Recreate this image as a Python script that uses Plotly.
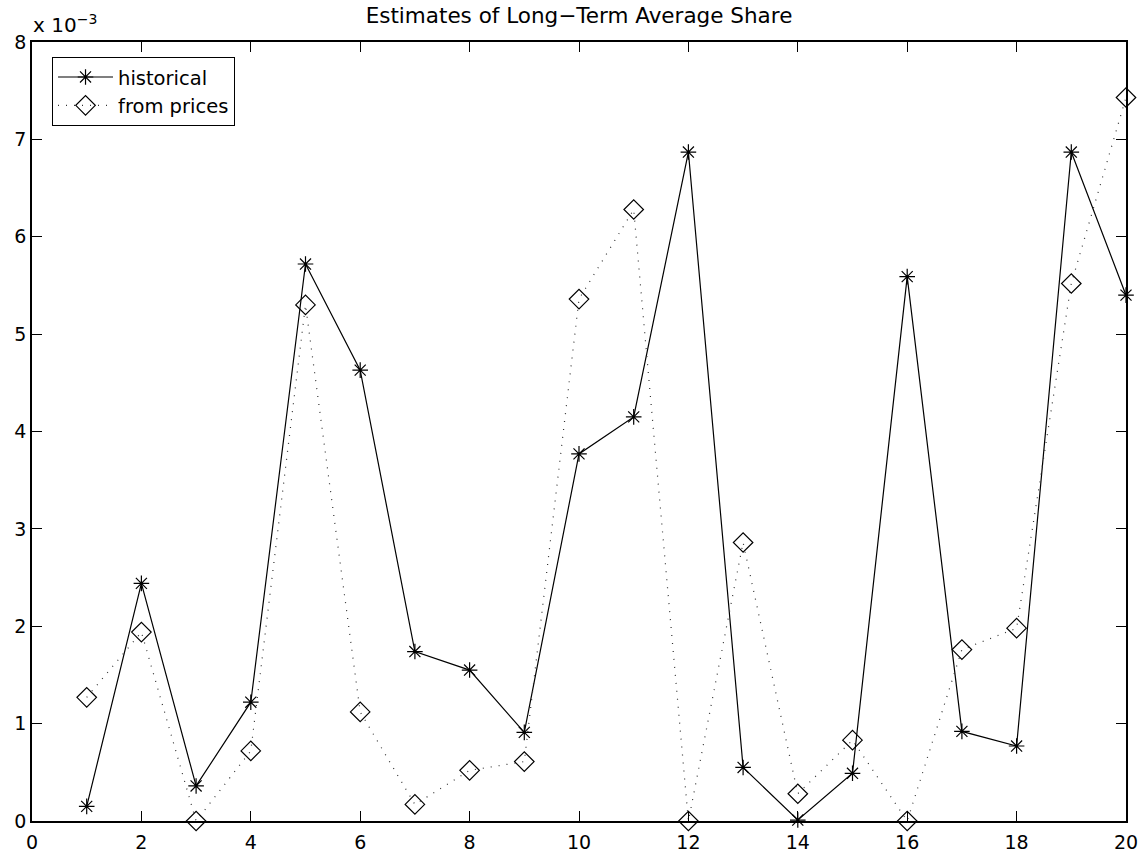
import plotly.graph_objects as go

# Data (values in units of 1e-3)
x_index = list(range(1, 21))
historical = [0.15, 2.44, 0.36, 1.22, 5.72, 4.63, 1.74, 1.55, 0.91, 3.77,
              4.15, 6.87, 0.55, 0.01, 0.49, 5.59, 0.92, 0.77, 6.87, 5.40]
from_prices = [1.27, 1.94, 0.00, 0.72, 5.30, 1.12, 0.17, 0.52, 0.61, 5.36,
               6.28, 0.00, 2.86, 0.28, 0.83, 0.00, 1.76, 1.98, 5.52, 7.43]
x_ticks = [0, 2, 4, 6, 8, 10, 12, 14, 16, 18, 20]
y_ticks = [0, 1, 2, 3, 4, 5, 6, 7, 8]
title_text = "Estimates of Long\u2212Term Average Share"
series_names = ["historical", "from prices"]

FONT = "DejaVu Sans, Liberation Sans, Arial, sans-serif"

fig = go.Figure()
fig.add_trace(go.Scatter(
    x=x_index, y=historical, name=series_names[0], mode="lines+markers",
    line=dict(color="black", width=1.2),
    marker=dict(symbol="asterisk-open", size=13, color="black",
                line=dict(color="black", width=1.2)),
    cliponaxis=False,
))
fig.add_trace(go.Scatter(
    x=x_index, y=from_prices, name=series_names[1], mode="lines+markers",
    line=dict(color="#333333", width=1.2, dash="1px,7px"),
    marker=dict(symbol="diamond-open", size=15, color="black",
                line=dict(color="black", width=1.2)),
    cliponaxis=False,
))

axis_common = dict(
    showgrid=False, zeroline=False, showline=True, linecolor="black",
    linewidth=1.5, mirror="ticks", ticks="inside", ticklen=10,
    tickcolor="black", tickwidth=1, automargin=False,
    tickfont=dict(family=FONT, size=19, color="black"),
)

fig.update_layout(
    template="none",
    width=1148, height=857,
    margin=dict(l=32, r=22, t=41.5, b=36, pad=0),
    paper_bgcolor="white", plot_bgcolor="white",
    title=dict(text=title_text, x=0.5, xref="paper", xanchor="center",
               yref="container", y=0.9815, yanchor="middle",
               font=dict(family=FONT, size=21.5, color="black")),
    xaxis=dict(range=[0, 20], tickvals=x_ticks, ticklabelstandoff=3,
               **axis_common),
    yaxis=dict(range=[0, 8], tickvals=y_ticks, **axis_common),
    legend=dict(x=0.0183, y=0.981, xanchor="left", yanchor="top",
                bgcolor="white", bordercolor="black", borderwidth=1,
                font=dict(family=FONT, size=19.5, color="black"),
                tracegroupgap=0, itemwidth=55),
    showlegend=True,
    annotations=[dict(
        text="x 10<sup>\u22123</sup>", xref="paper", yref="paper",
        x=0, y=1.0, xanchor="left", yanchor="bottom", showarrow=False,
        yshift=3, xshift=-1,
        font=dict(family=FONT, size=20, color="black"),
    )],
)

fig.write_html("out.html", config={"displayModeBar": False},
               post_script="document.body.style.margin='0';")
